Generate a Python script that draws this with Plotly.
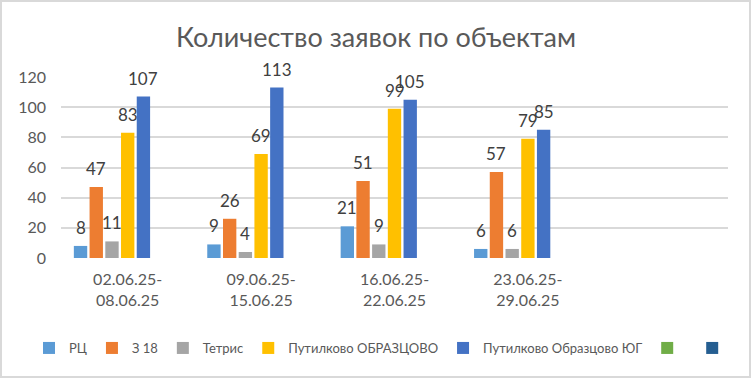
import plotly.graph_objects as go

categories = ["02.06.25-<br>08.06.25", "09.06.25-<br>15.06.25", "16.06.25-<br>22.06.25", "23.06.25-<br>29.06.25"]
series_names = ["РЦ", "З 18", "Тетрис", "Путилково ОБРАЗЦОВО", "Путилково Образцово ЮГ", "", " "]
rc = [8, 9, 21, 6]
z18 = [47, 26, 51, 57]
tetris = [11, 4, 9, 6]
putilkovo = [83, 69, 99, 79]
putilkovo_yug = [107, 113, 105, 85]
empty1 = [None, None, None, None]
empty2 = [None, None, None, None]
colors = ["#5B9BD5", "#ED7D31", "#A5A5A5", "#FFC000", "#4472C4", "#70AD47", "#255E91"]
y_ticks = [0, 20, 40, 60, 80, 100, 120]

W, H = 752, 379
ML, MR, MT, MB = 61, 24, 77, 121
BARGAP = 0.175
FONT = "Lato"

all_series = [rc, z18, tetris, putilkovo, putilkovo_yug, empty1, empty2]
n_series = len(all_series)
pw = W - ML - MR
ph = H - MT - MB

fig = go.Figure()
for name, vals, col in zip(series_names, all_series, colors):
    fig.add_trace(go.Bar(
        x=categories, y=vals, name=name,
        marker=dict(color=col, line=dict(width=0)),
        hoverinfo="y+name",
    ))

# data labels above each bar, positioned via the axis scales
slot = (1 - BARGAP) / n_series
annotations = []
for k, vals in enumerate(all_series):
    for i, v in enumerate(vals):
        if v is None:
            continue
        annotations.append(dict(
            x=i + (k - (n_series - 1) / 2) * slot, y=v, xref="x", yref="y",
            text=str(v), showarrow=False, yanchor="bottom", xanchor="center",
            yshift=6, font=dict(family=FONT, size=17, color="#404040"),
        ))

fig.update_layout(
    width=W, height=H,
    margin=dict(l=ML, r=MR, t=MT, b=MB, autoexpand=False),
    paper_bgcolor="white", plot_bgcolor="white",
    barmode="group", bargap=BARGAP, bargroupgap=0.15,
    title=dict(text="Количество заявок по объектам", x=0.5, xanchor="center",
               y=1 - 38 / H, yanchor="middle",
               font=dict(family=FONT, size=27, color="#595959")),
    font=dict(family=FONT, color="#595959"),
    xaxis=dict(type="category", categoryarray=categories, categoryorder="array",
               range=[-0.5, 4.5], showgrid=False, showline=False, zeroline=False,
               ticks="", ticklabelstandoff=10, tickfont=dict(family=FONT, size=16, color="#595959")),
    yaxis=dict(range=[0, 120], tickvals=y_ticks, showgrid=True, gridcolor="#D9D9D9",
               gridwidth=1.5, zeroline=False, showline=False, ticks="", ticklabelstandoff=14,
               tickfont=dict(family=FONT, size=16, color="#595959")),
    legend=dict(orientation="h", x=(29 - ML) / pw, xanchor="left",
                y=-(333 - (H - MB)) / ph, yanchor="top",
                font=dict(family=FONT, size=13, color="#595959"), itemwidth=30,
                traceorder="normal", tracegroupgap=0),
    showlegend=True,
    annotations=annotations,
)

fig.add_shape(type="rect", xref="paper", yref="paper",
              x0=(1 - ML) / pw, x1=(W - 2 - ML) / pw,
              y0=-(H - 2 - MT - ph) / ph, y1=1 + (MT - 1) / ph,
              line=dict(color="#D9D9D9", width=2), fillcolor="rgba(0,0,0,0)", layer="below")

fig.write_html("out.html", config={"displayModeBar": False},
               post_script="document.body.style.margin='0';")
